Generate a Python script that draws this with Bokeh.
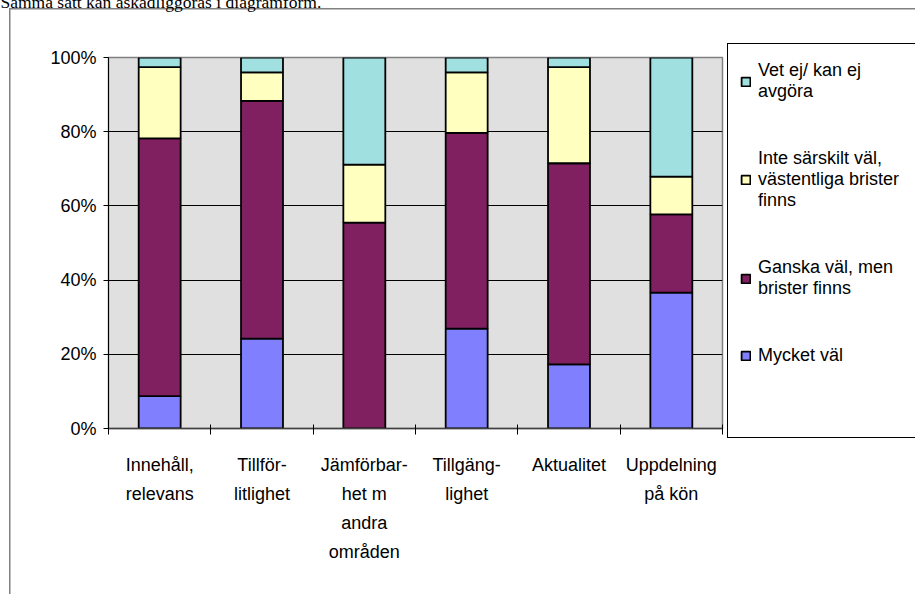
from bokeh.plotting import figure
from bokeh.models import (ColumnDataSource, Range1d, FixedTicker, Legend, LegendItem, Label)
from bokeh.embed import file_html
from bokeh.resources import INLINE

# ---- data ----
categories = ["Innehåll,\nrelevans", "Tillför-\nlitlighet", "Jämförbar-\nhet m\nandra\nområden",
              "Tillgäng-\nlighet", "Aktualitet", "Uppdelning\npå kön"]
series_keys = ["mycket", "ganska", "inte", "vetej"]
series_labels = ["Mycket väl", "Ganska väl, men\nbrister finns",
                 "Inte särskilt väl,\nvästentliga brister\nfinns", "Vet ej/ kan ej\navgöra"]
mycket = [8.7, 24.2, 0.0, 26.9, 17.3, 36.6]
ganska = [69.5, 64.1, 55.5, 52.8, 54.2, 21.1]
inte = [19.2, 7.7, 15.6, 16.3, 25.9, 10.2]
vetej = [2.6, 4.0, 28.9, 4.0, 2.6, 32.1]
colors = ["#8080FF", "#802060", "#FFFFC0", "#A0E0E0"]
y_ticks = [0, 20, 40, 60, 80, 100]
y_tick_labels = ["0%", "20%", "40%", "60%", "80%", "100%"]
heading = "Samma sätt kan åskådliggöras i diagramform."

xs = [i + 0.5 for i in range(len(categories))]
source = ColumnDataSource(dict(x=xs, mycket=mycket, ganska=ganska, inte=inte, vetej=vetej))

FONT = "Liberation Sans"

# decorative frame lines (outer chart frame + legend box) painted behind the transparent canvas
frame_bg = ", ".join([
    "linear-gradient(#808080,#808080) 9px 8px / 1.5px 100% no-repeat",
    "linear-gradient(#808080,#808080) 9px 8px / 100% 1.5px no-repeat",
    "linear-gradient(#000,#000) 727px 43px / 1.2px 395px no-repeat",
    "linear-gradient(#000,#000) 727px 43px / 100% 1.2px no-repeat",
    "linear-gradient(#000,#000) 727px 437px / 100% 1.2px no-repeat",
])

p = figure(frame_width=614, frame_height=371,
           x_range=Range1d(0, len(categories)), y_range=Range1d(0, 100),
           output_backend="svg", toolbar_location=None,
           min_border_left=108, min_border_right=10, min_border_top=57, min_border_bottom=166,
           background_fill_color="#E0E0E0", border_fill_alpha=0,
           outline_line_color="#808080", outline_line_width=1.5,
           styles={"background": frame_bg, "max-width": "915px", "overflow": "hidden"})

renderers = p.vbar_stack(series_keys, x="x", width=0.41, source=source, fill_color=colors,
                         line_color="black", line_width=1.8)

# x axis
p.xaxis.ticker = FixedTicker(ticks=xs, minor_ticks=list(range(len(categories) + 1)))
p.xaxis.major_label_overrides = {x: c for x, c in zip(xs, categories)}
p.xaxis.major_tick_line_color = None
p.xaxis.major_tick_in = 0
p.xaxis.major_tick_out = 0
p.xaxis.minor_tick_line_color = "black"
p.xaxis.minor_tick_in = 4
p.xaxis.minor_tick_out = 6
p.xaxis.axis_line_color = "#404040"
p.xaxis.axis_line_width = 1.5
p.xaxis.major_label_standoff = 20
p.xaxis.major_label_text_font = FONT
p.xaxis.major_label_text_font_size = "18px"
p.xaxis.major_label_text_line_height = 1.45
p.xaxis.major_label_text_color = "black"
p.xgrid.visible = False

# y axis
p.yaxis.ticker = FixedTicker(ticks=y_ticks, minor_ticks=[])
p.yaxis.major_label_overrides = {t: l for t, l in zip(y_ticks, y_tick_labels)}
p.yaxis.major_tick_in = 0
p.yaxis.major_tick_out = 5
p.yaxis.major_tick_line_color = "black"
p.yaxis.axis_line_color = "black"
p.yaxis.major_label_standoff = 7
p.yaxis.major_label_text_font = FONT
p.yaxis.major_label_text_font_size = "18px"
p.yaxis.major_label_text_color = "black"
p.ygrid.ticker = FixedTicker(ticks=y_ticks)
p.ygrid.grid_line_color = "black"
p.ygrid.grid_line_width = 1

# legend (in right panel)
items = [LegendItem(label=lab, renderers=[r]) for lab, r in zip(series_labels, renderers)][::-1]
legend = Legend(items=items, location=(18, 62), border_line_color=None,
                background_fill_alpha=0, padding=0, margin=0, spacing=46,
                glyph_width=11, glyph_height=11, label_standoff=7,
                label_text_font=FONT, label_text_font_size="18px",
                label_text_color="black", label_text_line_height=1.28)
p.add_layout(legend, "right")

p.add_layout(Label(x=0, y=1, x_units="canvas", y_units="canvas", text=heading,
                   text_font="Liberation Serif", text_font_size="17.5px",
                   text_baseline="alphabetic", text_color="black"), "above")

open("out.html", "w").write(file_html(p, INLINE))
